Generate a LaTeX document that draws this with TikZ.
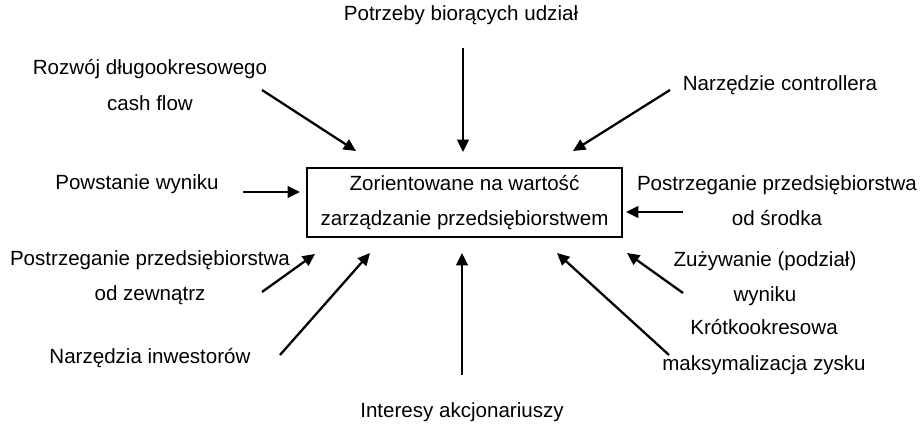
\documentclass[tikz,border=0pt]{standalone}
\usepackage{fontspec}
\setmainfont{Liberation Sans}
\usepackage{tikz}
\usetikzlibrary{arrows.meta, positioning}

\begin{document}
\begin{tikzpicture}[
    x=0.02cm, y=-0.02cm,
    centre/.style={rectangle, draw, line width=0.7pt, minimum width=6.3cm, minimum height=1.38cm, align=center, inner sep=0pt},
    label/.style={align=center, inner sep=0pt},
    arrow/.style={-{Triangle[length=7pt, width=6.5pt]}, line width=1.3pt}
]
\useasboundingbox (0,0) rectangle (920,428);
\tikzset{every node/.style={font=\fontsize{11.7}{20}\selectfont}}

% centrum
\node[centre] (zvm) at (464.5,202.5) {Zorientowane na wartość\\zarządzanie przedsiębiorstwem};

% czynniki
\node[label] (potrzeby) at (461,15) {Potrzeby biorących udział};
\node[label] (rozwoj) at (150,85) {Rozwój długookresowego\\cash flow};
\node[label] (controller) at (780,85) {Narzędzie controllera};
\node[label] (powstanie) at (137,184) {Powstanie wyniku};
\node[label] (srodka) at (777,201) {Postrzeganie przedsiębiorstwa\\od środka};
\node[label] (zewnatrz) at (150,278) {Postrzeganie przedsiębiorstwa\\od zewnątrz};
\node[label] (inwestorzy) at (150,358) {Narzędzia inwestorów};
\node[label] (zuzywanie) at (765,279) {Zużywanie (podział)\\wyniku};
\node[label] (krotko) at (764,347) {Krótkookresowa\\maksymalizacja zysku};
\node[label] (interesy) at (462,412) {Interesy akcjonariuszy};

% końce strzałek
\coordinate (s1) at (463,48);   \coordinate (t1) at (463,152);
\coordinate (s2) at (262,90);   \coordinate (t2) at (356,151);
\coordinate (s3) at (670,90);   \coordinate (t3) at (573,151);
\coordinate (s4) at (243,192);  \coordinate (t4) at (300,192);
\coordinate (s5) at (683,212);  \coordinate (t5) at (626,212);
\coordinate (s6) at (262,292);  \coordinate (t6) at (315,254);
\coordinate (s7) at (280,355);  \coordinate (t7) at (370,253);
\coordinate (s8) at (462,375);  \coordinate (t8) at (462,253);
\coordinate (s9) at (669,355);  \coordinate (t9) at (557,253);
\coordinate (s10) at (683,293); \coordinate (t10) at (627,253);

% strzałki
\draw[arrow] (s1) -- (t1);
\draw[arrow] (s2) -- (t2);
\draw[arrow] (s3) -- (t3);
\draw[arrow] (s4) -- (t4);
\draw[arrow] (s5) -- (t5);
\draw[arrow] (s6) -- (t6);
\draw[arrow] (s7) -- (t7);
\draw[arrow] (s8) -- (t8);
\draw[arrow] (s9) -- (t9);
\draw[arrow] (s10) -- (t10);
\end{tikzpicture}
\end{document}
